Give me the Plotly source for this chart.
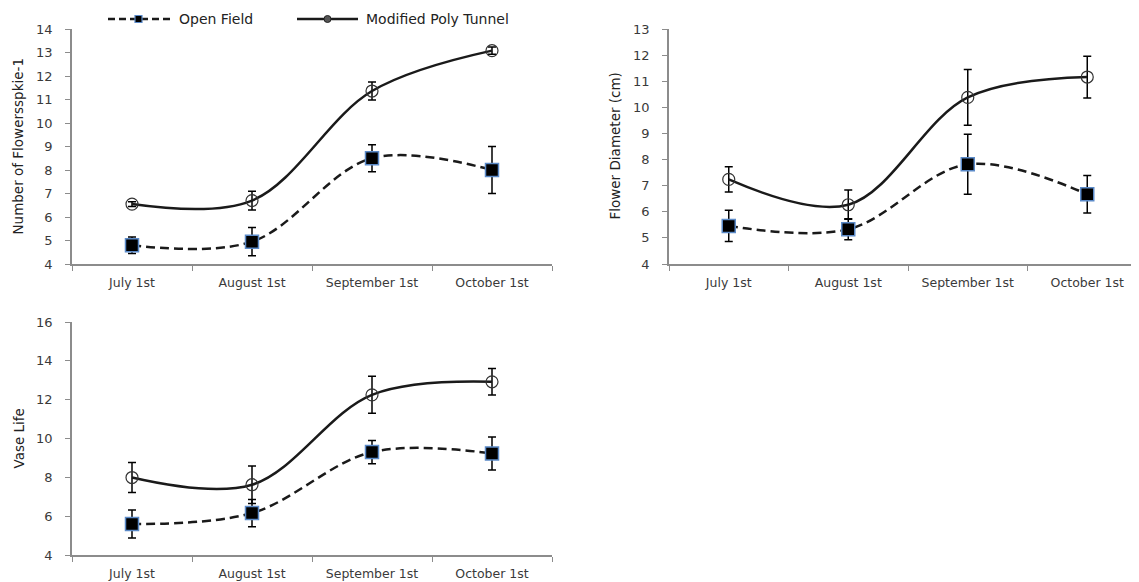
import plotly.graph_objects as go

months = ["July 1st", "August 1st", "September 1st", "October 1st"]

# Number of flowers per spike
nf_open = [4.8, 4.95, 8.5, 8.0]
nf_open_err = [0.35, 0.6, 0.57, 1.0]
nf_poly = [6.55, 6.7, 11.36, 13.08]
nf_poly_err = [0.1, 0.4, 0.38, 0.15]

# Flower diameter (cm)
fd_open = [5.46, 5.33, 7.82, 6.67]
fd_open_err = [0.6, 0.4, 1.15, 0.72]
fd_poly = [7.24, 6.27, 10.38, 11.16]
fd_poly_err = [0.48, 0.56, 1.07, 0.8]

# Vase life
vl_open = [5.6, 6.16, 9.3, 9.23]
vl_open_err = [0.72, 0.7, 0.6, 0.85]
vl_poly = [7.99, 7.62, 12.25, 12.92]
vl_poly_err = [0.77, 0.97, 0.95, 0.68]

series_names = ["Open Field", "Modified Poly Tunnel"]
y_titles = ["Number of Flowersspkie-1", "Flower Diameter (cm)", "Vase Life"]

# page is offset by the default 8px body margin
OFF = 8
W, H = 1139 - OFF, 582 - OFF
FONT = "'DejaVu Sans', 'Open Sans', sans-serif"
TXT = "#3a3a3a"
AX = "#8c8c8c"
BLUE = "#5b8ac8"


def fx(px):
    return (px - OFF) / W


def fy(py):
    return 1 - (py - OFF) / H


fig = go.Figure()

panels = [
    ("x", "y", nf_open, nf_open_err, nf_poly, nf_poly_err),
    ("x2", "y2", fd_open, fd_open_err, fd_poly, fd_poly_err),
    ("x3", "y3", vl_open, vl_open_err, vl_poly, vl_poly_err),
]

for xa, ya, op, ope, po, poe in panels:
    fig.add_trace(go.Scatter(
        x=months, y=op, xaxis=xa, yaxis=ya, name=series_names[0],
        mode="lines+markers",
        line=dict(color="#1a1a1a", width=2.5, dash="9px,5px", shape="spline", smoothing=1.0),
        marker=dict(symbol="square", size=13, color="black", line=dict(color=BLUE, width=1.5)),
        error_y=dict(type="data", array=ope, color="black", thickness=1.5, width=4),
        showlegend=False,
    ))
    fig.add_trace(go.Scatter(
        x=months, y=po, xaxis=xa, yaxis=ya, name=series_names[1],
        mode="lines+markers",
        line=dict(color="#1a1a1a", width=2.5, shape="spline", smoothing=1.0),
        marker=dict(symbol="circle-open", size=12, color="#333333", line=dict(width=1.2)),
        error_y=dict(type="data", array=poe, color="black", thickness=1.5, width=4),
        showlegend=False,
    ))

xcommon = dict(type="category", tickson="boundaries", ticks="outside", ticklen=5, tickcolor=AX,
               showline=True, linecolor=AX, linewidth=1.5, showgrid=False, zeroline=False,
               automargin=False, ticklabelstandoff=6, tickfont=dict(size=12.5, color=TXT, family=FONT))
ycommon = dict(ticks="outside", ticklen=5, tickcolor=AX, showline=True, linecolor=AX, linewidth=1.5,
               showgrid=False, zeroline=False, automargin=False, ticklabelstandoff=10,
               tickfont=dict(size=13, color=TXT, family=FONT))

# right panel extends beyond the picture edge (cropped in the reference)
right_end = 669 + 4 * 119.5
right_clip = 1139
right_range_max = 3.5 - (right_end - right_clip) / 119.5

fig.update_layout(
    width=W, height=H, margin=dict(l=0, r=0, t=0, b=0),
    paper_bgcolor="white", plot_bgcolor="white",
    font=dict(family=FONT, color=TXT),
    xaxis=dict(domain=[fx(72), fx(552)], anchor="y", range=[-0.5, 3.5], **xcommon),
    yaxis=dict(domain=[fy(264), fy(29)], anchor="x", range=[4, 14], dtick=1, **ycommon),
    xaxis2=dict(domain=[fx(669), 1.0], anchor="y2", range=[-0.5, right_range_max], **xcommon),
    yaxis2=dict(domain=[fy(264), fy(29)], anchor="x2", range=[4, 13], dtick=1, **ycommon),
    xaxis3=dict(domain=[fx(72), fx(552)], anchor="y3", range=[-0.5, 3.5], **xcommon),
    yaxis3=dict(domain=[fy(555), fy(322)], anchor="x3", range=[4, 16], dtick=2, **ycommon),
)

# y-axis titles
for txt, xp, y0, y1 in [(y_titles[0], 18, 29, 264), (y_titles[1], 615, 29, 264), (y_titles[2], 18, 322, 555)]:
    fig.add_annotation(text=txt, x=fx(xp), y=(fy(y0) + fy(y1)) / 2, xref="paper", yref="paper",
                       textangle=-90, showarrow=False, xanchor="center", yanchor="middle",
                       font=dict(size=13.5, color="#222", family=FONT))

# manual legend
LY = fy(19)
fig.add_shape(type="line", xref="paper", yref="paper", x0=fx(108), x1=fx(172), y0=LY, y1=LY,
              line=dict(color="#1a1a1a", width=2.5, dash="7px,4px"))
fig.add_shape(type="rect", xref="paper", yref="paper", x0=fx(135), x1=fx(142), y0=fy(22.5), y1=fy(15.5),
              fillcolor="black", line=dict(color=BLUE, width=1.2))
fig.add_annotation(text=series_names[0], x=fx(177), y=LY, xref="paper", yref="paper", showarrow=False,
                   xanchor="left", yanchor="middle", font=dict(size=14, color="#222", family=FONT))
fig.add_shape(type="line", xref="paper", yref="paper", x0=fx(297), x1=fx(358), y0=LY, y1=LY,
              line=dict(color="#1a1a1a", width=2.5))
fig.add_shape(type="circle", xref="paper", yref="paper", x0=fx(324), x1=fx(331), y0=fy(22.5), y1=fy(15.5),
              fillcolor="#555", line=dict(color="#222", width=1))
fig.add_annotation(text=series_names[1], x=fx(364), y=LY, xref="paper", yref="paper", showarrow=False,
                   xanchor="left", yanchor="middle", font=dict(size=14, color="#222", family=FONT))

fig.write_html("out.html")
